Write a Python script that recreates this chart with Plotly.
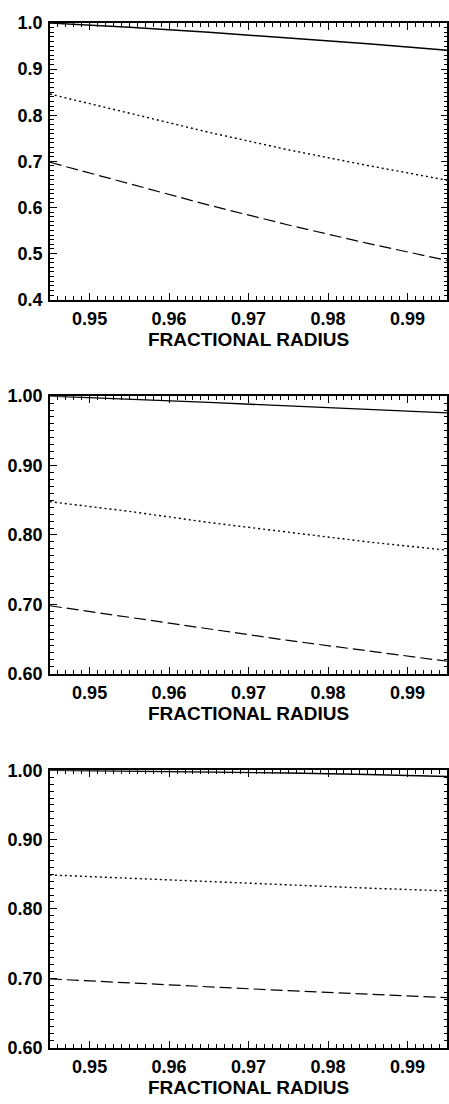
import plotly.graph_objects as go

# ---- data ----
radius = [0.945, 0.955, 0.965, 0.975, 0.985, 0.995]

p1_solid = [1.000, 0.991, 0.980, 0.968, 0.955, 0.941]
p1_dotted = [0.846, 0.804, 0.763, 0.725, 0.691, 0.659]
p1_dashed = [0.698, 0.652, 0.605, 0.562, 0.522, 0.485]

p2_solid = [1.000, 0.996, 0.991, 0.986, 0.981, 0.976]
p2_dotted = [0.848, 0.834, 0.818, 0.804, 0.790, 0.778]
p2_dashed = [0.698, 0.681, 0.664, 0.648, 0.633, 0.618]

p3_solid = [1.000, 0.999, 0.998, 0.996, 0.994, 0.991]
p3_dotted = [0.849, 0.844, 0.839, 0.835, 0.830, 0.826]
p3_dashed = [0.699, 0.693, 0.688, 0.682, 0.677, 0.672]

x_ticks = [0.95, 0.96, 0.97, 0.98, 0.99]
x_title = "FRACTIONAL RADIUS"

panels = [
    dict(solid=p1_solid, dotted=p1_dotted, dashed=p1_dashed,
         yrange=[0.4, 1.0], yfmt=".1f"),
    dict(solid=p2_solid, dotted=p2_dotted, dashed=p2_dashed,
         yrange=[0.6, 1.0], yfmt=".2f"),
    dict(solid=p3_solid, dotted=p3_dotted, dashed=p3_dashed,
         yrange=[0.6, 1.0], yfmt=".2f"),
]

W, H = 449, 1104
boxes = [(13.3, 295.0), (393.3, 676.0), (774.3, 1056.7)]
x_left, x_right = 50.0, 448.3

font_family = "Liberation Sans, Arial, Helvetica, sans-serif"
tick_font = dict(family=font_family, size=18, color="black", weight="bold")

fig = go.Figure()
styles = [("solid", "solid", 1.4), ("dotted", "2px,3px", 1.4), ("dashed", "12px,5px", 1.2)]

layout_axes = {}
for i, p in enumerate(panels):
    n = "" if i == 0 else str(i + 1)
    for key, dash, w in styles:
        fig.add_trace(go.Scatter(
            x=radius, y=p[key], mode="lines",
            line=dict(color="black", width=w, dash=dash),
            xaxis="x" + n, yaxis="y" + n, showlegend=False, hoverinfo="skip"))
    top, bot = boxes[i]
    common = dict(showline=True, linecolor="black", linewidth=1.5, mirror="allticks",
                  ticks="inside", ticklen=7, tickwidth=1.2, tickcolor="black",
                  showgrid=False, zeroline=False, tickfont=tick_font)
    layout_axes["xaxis" + n] = dict(
        common, domain=[x_left / W, x_right / W], range=[0.945, 0.995],
        anchor="y" + n, tickvals=x_ticks, tickformat=".2f",
        ticklabelstandoff=2,
        minor=dict(ticks="inside", dtick=0.001, ticklen=4, tickwidth=1, tickcolor="black", showgrid=False),
        title=dict(text=x_title, standoff=1,
                   font=dict(family=font_family, size=19, color="black", weight="bold")))
    layout_axes["yaxis" + n] = dict(
        common, domain=[1 - bot / H, 1 - top / H], range=p["yrange"],
        anchor="x" + n, dtick=0.1, tick0=0, tickformat=p["yfmt"],
        ticklabelstandoff=2,
        minor=dict(ticks="inside", dtick=0.01, ticklen=4, tickwidth=1, tickcolor="black", showgrid=False))

fig.update_layout(
    width=W, height=H, margin=dict(l=0, r=0, t=0, b=0),
    paper_bgcolor="white", plot_bgcolor="white", showlegend=False,
    **layout_axes)

fig.write_html("out.html")
